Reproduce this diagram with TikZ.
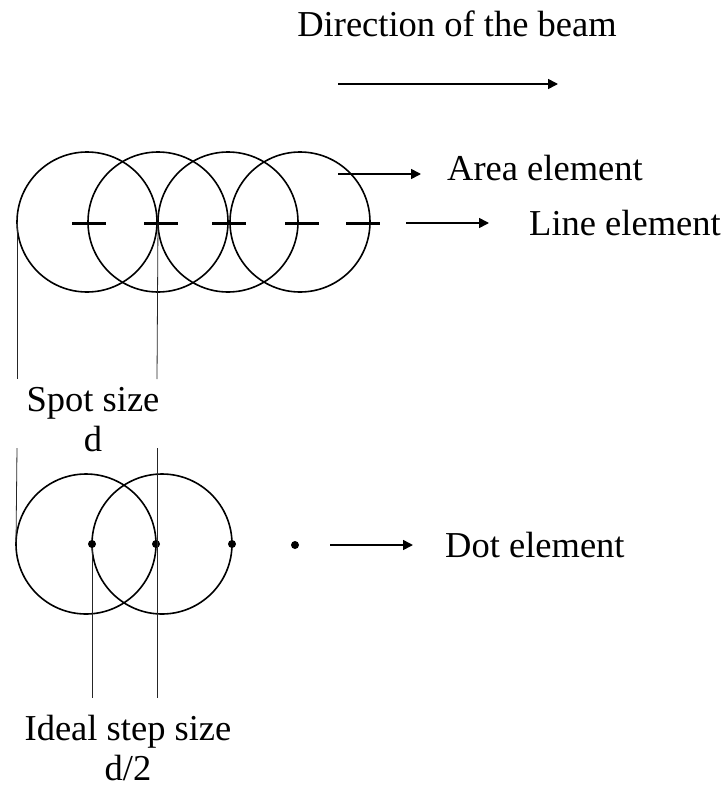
\documentclass[tikz,border=0pt]{standalone}
\usepackage{fontspec}
\setmainfont{Liberation Serif}
\usetikzlibrary{arrows.meta}
\begin{document}
\begin{tikzpicture}[x=1pt,y=-1pt,
  spot/.style={circle,draw,line width=1.6pt,minimum size=140pt,inner sep=0pt,outer sep=0pt},
  guide/.style={line width=0.8pt,draw=black!85},
  dashseg/.style={line width=3pt},
  arr/.style={line width=1.6pt,-{Triangle[length=10pt,width=10pt]}},
  lbl/.style={font=\fontsize{36.5}{40}\selectfont,inner sep=0pt,align=center},
  dotel/.style={circle,fill,inner sep=0pt,minimum size=8pt}]
\useasboundingbox (0,0) rectangle (723,790);

% title and beam direction
\node[lbl] (title) at (457,24) {Direction of the beam};
\coordinate (b1) at (338,84);
\coordinate (b2) at (558,84);
\draw[arr] (b1) -- (b2);

% upper row of spots
\node[spot] (c1) at (87,222) {};
\node[spot] (c2) at (158,222) {};
\node[spot] (c3) at (228,222) {};
\node[spot] (c4) at (300,222) {};

% line element dashes
\foreach \a/\b in {72/106,144/178,212/246,285/319,346/380}
  \draw[dashseg] (\a,223) -- (\b,223);

% area / line element arrows and labels
\coordinate (a1) at (338,174);
\coordinate (a2) at (421,174);
\draw[arr] (a1) -- (a2);
\node[lbl,anchor=west] (area) at (447,168) {Area element};
\coordinate (l1) at (406,223);
\coordinate (l2) at (489,223);
\draw[arr] (l1) -- (l2);
\node[lbl,anchor=west] (line) at (529,223) {Line element};

% spot size guides
\coordinate (g1) at (17,379);
\coordinate (g2) at (157,379);
\draw[guide] (c1.west) -- (g1);
\draw[guide] (c3.west) -- (g2);
\node[lbl] (spotsize) at (93,420) {Spot size\\d};

% lower row
\node[spot] (d1) at (86,544) {};
\node[spot] (d2) at (162,544) {};
\node[dotel] (p1) at (d2.west) {};
\node[dotel] (p2) at (d1.east) {};
\node[dotel] (p3) at (d2.east) {};
\node[dotel] (p4) at (295,545) {};

\coordinate (h1) at (17,448);
\coordinate (h2) at (157,448);
\coordinate (h3) at (157,698);
\coordinate (h4) at (92,698);
\draw[guide] (h1) -- (d1.west);
\draw[guide] (h2) -- (h3);
\draw[guide] (p1) -- (h4);

\coordinate (e1) at (330,545);
\coordinate (e2) at (413,545);
\draw[arr] (e1) -- (e2);
\node[lbl,anchor=west] (dot) at (445,545) {Dot element};

\node[lbl] (step) at (128,748) {Ideal step size\\d/2};
\end{tikzpicture}
\end{document}
